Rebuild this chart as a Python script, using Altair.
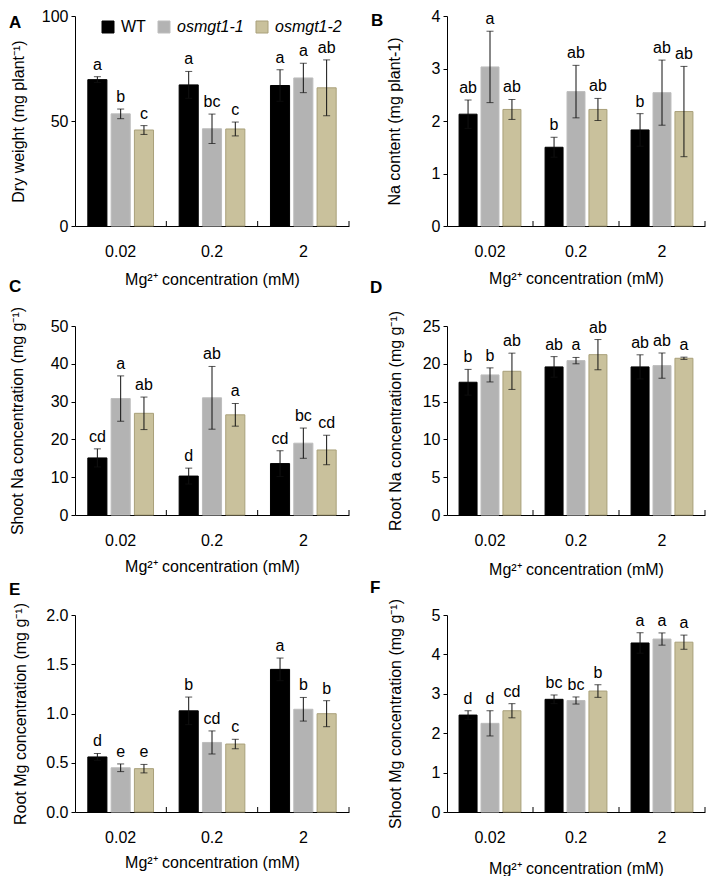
import altair as alt
import pandas as pd

conc = ["0.02", "0.2", "2"]
series = ["WT", "osmgt1-1", "osmgt1-2"]
fill_colors = ["#000000", "#b3b3b3", "#c9c19c"]
stroke_colors = ["#000000", "#bdbdbd", "#a9a07a"]

# values ordered by concentration (0.02, 0.2, 2), each as [WT, osmgt1-1, osmgt1-2]
dw_mean = [69.7, 53.4, 45.7, 67.2, 46.3, 46.2, 66.9, 70.5, 65.8]
dw_err = [1.4, 2.3, 2.1, 6.4, 7.0, 3.3, 7.5, 7.0, 13.3]
dw_letter = ["a", "b", "c", "a", "bc", "c", "a", "a", "ab"]

na_mean = [2.13, 3.03, 2.22, 1.50, 2.56, 2.22, 1.83, 2.54, 2.18]
na_err = [0.27, 0.68, 0.19, 0.19, 0.50, 0.21, 0.31, 0.62, 0.86]
na_letter = ["ab", "a", "ab", "b", "ab", "ab", "b", "ab", "ab"]

sna_mean = [15.1, 30.8, 26.9, 10.3, 31.0, 26.5, 13.6, 19.0, 17.2]
sna_err = [2.4, 6.0, 4.3, 2.1, 8.3, 3.0, 3.4, 4.0, 3.9]
sna_letter = ["cd", "a", "ab", "d", "ab", "a", "cd", "bc", "cd"]

rna_mean = [17.56, 18.53, 19.01, 19.59, 20.42, 21.21, 19.59, 19.76, 20.73]
rna_err = [1.7, 0.93, 2.4, 1.36, 0.42, 2.0, 1.6, 1.67, 0.15]
rna_letter = ["b", "b", "ab", "ab", "a", "ab", "ab", "ab", "a"]

rmg_mean = [0.559, 0.449, 0.44, 1.027, 0.706, 0.69, 1.448, 1.043, 0.998]
rmg_err = [0.035, 0.039, 0.043, 0.14, 0.117, 0.048, 0.115, 0.12, 0.132]
rmg_letter = ["d", "e", "e", "b", "cd", "c", "a", "b", "b"]

smg_mean = [2.46, 2.25, 2.57, 2.86, 2.83, 3.07, 4.29, 4.39, 4.31]
smg_err = [0.11, 0.32, 0.18, 0.11, 0.09, 0.16, 0.26, 0.155, 0.18]
smg_letter = ["d", "d", "cd", "bc", "bc", "b", "a", "a", "a"]

FONT = "Liberation Sans"
XTITLE = "Mg²⁺ concentration (mM)"


def panel_df(mean, err, letters):
    rows = []
    for i, c in enumerate(conc):
        for j, s in enumerate(series):
            k = i * 3 + j
            rows.append(dict(conc=c, series=s, mean=mean[k],
                             lo=mean[k] - err[k], hi=mean[k] + err[k],
                             letter=letters[k]))
    return pd.DataFrame(rows)


def panel(df, ytitle, ymax, yvals, yfmt, w, h, tag, tagx, tagy,
          ytitle_x, xtitle_y, legend=False):
    xs = alt.Scale(domain=conc, paddingInner=0, paddingOuter=0)
    xo = alt.Scale(domain=series, paddingInner=0.18, paddingOuter=0.55)
    ys = alt.Scale(domain=[0, ymax], nice=False, zero=True)
    xaxis = alt.Axis(title=XTITLE, labelAngle=0, ticks=False, tickSize=0,
                     labelPadding=17, titleX=w / 2, titleY=xtitle_y,
                     titleBaseline="middle", titleAlign="center")
    yaxis = alt.Axis(title=ytitle, values=yvals, format=yfmt, grid=False,
                     tickSize=4, labelPadding=3, titleX=ytitle_x, titleY=h / 2,
                     titleBaseline="middle", titleAlign="center")
    X = alt.X("conc:N", scale=xs, axis=xaxis)
    XO = alt.XOffset("series:N", scale=xo)
    if legend:
        leg = alt.Legend(title=None, orient="none", legendX=25, legendY=3,
                         direction="horizontal", symbolType="square",
                         symbolSize=144, symbolStrokeWidth=1,
                         labelFontSize=16, labelFont=FONT, labelColor="black",
                         labelOffset=5, columnPadding=10, padding=0,
                         labelFontStyle=alt.ExprRef("datum.label == 'WT' ? 'normal' : 'italic'"))
    else:
        leg = None
    base = alt.Chart(df)
    bars = base.mark_bar(strokeWidth=1).encode(
        x=X, xOffset=XO,
        y=alt.Y("mean:Q", scale=ys, axis=yaxis),
        color=alt.Color("series:N", scale=alt.Scale(domain=series, range=fill_colors), legend=leg),
        stroke=alt.Stroke("series:N", scale=alt.Scale(domain=series, range=stroke_colors), legend=leg),
    )
    err = base.mark_rule(color="#111111", strokeWidth=1).encode(
        x=X, xOffset=XO, y=alt.Y("lo:Q", scale=ys, axis=yaxis), y2="hi:Q")
    cap_hi = base.mark_tick(color="#111111", thickness=1, size=7).encode(
        x=X, xOffset=XO, y=alt.Y("hi:Q", scale=ys, axis=yaxis))
    cap_lo = base.mark_tick(color="#111111", thickness=1, size=7).encode(
        x=X, xOffset=XO, y=alt.Y("lo:Q", scale=ys, axis=yaxis))
    letters = base.mark_text(baseline="bottom", dy=-4, fontSize=16,
                             color="black", font=FONT).encode(
        x=X, xOffset=XO, y=alt.Y("hi:Q", scale=ys, axis=yaxis), text="letter:N")
    xticks = alt.Chart(pd.DataFrame({"conc": conc})).mark_rule(
        color="black", strokeWidth=1).encode(
        x=alt.X("conc:N", scale=xs, axis=xaxis, bandPosition=1),
        y=alt.value(h), y2=alt.value(h - 5))
    tagtxt = alt.Chart(pd.DataFrame({"tag": [tag]})).mark_text(
        align="left", baseline="alphabetic", fontSize=17, fontWeight="bold",
        color="black", font=FONT).encode(
        x=alt.value(tagx), y=alt.value(tagy), text="tag:N")
    return alt.layer(bars, err, cap_hi, cap_lo, letters, xticks, tagtxt).properties(
        width=w, height=h)


LW, RW = 274, 258
H1, H2, H3 = 210, 189, 197

pA = panel(panel_df(dw_mean, dw_err, dw_letter), "Dry weight (mg plant⁻¹)",
           100, [0, 50, 100], "d", LW, H1, "A", -66, 12, -57, 53, legend=True)
pB = panel(panel_df(na_mean, na_err, na_letter), "Na content (mg plant-1)",
           4, [0, 1, 2, 3, 4], "d", RW, H1, "B", -76, 10, -53, 52)
pC = panel(panel_df(sna_mean, sna_err, sna_letter), "Shoot Na concentration (mg g⁻¹)",
           50, [0, 10, 20, 30, 40, 50], "d", LW, H2, "C", -66, -34, -58, 51)
pD = panel(panel_df(rna_mean, rna_err, rna_letter), "Root Na concentration (mg g⁻¹)",
           25, [0, 5, 10, 15, 20, 25], "d", RW, H2, "D", -77, -33, -52, 54)
pE = panel(panel_df(rmg_mean, rmg_err, rmg_letter), "Root Mg concentration (mg g⁻¹)",
           2.0, [0, 0.5, 1.0, 1.5, 2.0], ".1f", LW, H3, "E", -66, -20, -55, 50)
pF = panel(panel_df(smg_mean, smg_err, smg_letter), "Shoot Mg concentration (mg g⁻¹)",
           5, [0, 1, 2, 3, 4, 5], "d", RW, H3, "F", -77, -22, -52, 56)

IND = dict(color="independent", stroke="independent", xOffset="independent")

chart = alt.concat(
    pA, pB, pC, pD, pE, pF, columns=2,
    spacing={"row": 100, "column": 98}, bounds="flush", align="each",
).resolve_scale(**IND).properties(
    padding=0
).configure(font=FONT).configure_view(stroke=None).configure_axis(
    domainColor="black", tickColor="black", labelColor="black", titleColor="black",
    labelFontSize=16, titleFontSize=16, titleFontWeight="normal",
    labelFont=FONT, titleFont=FONT, domainWidth=1, tickWidth=1,
)

chart.save("out.html", embed_options={"renderer": "svg", "actions": False})
